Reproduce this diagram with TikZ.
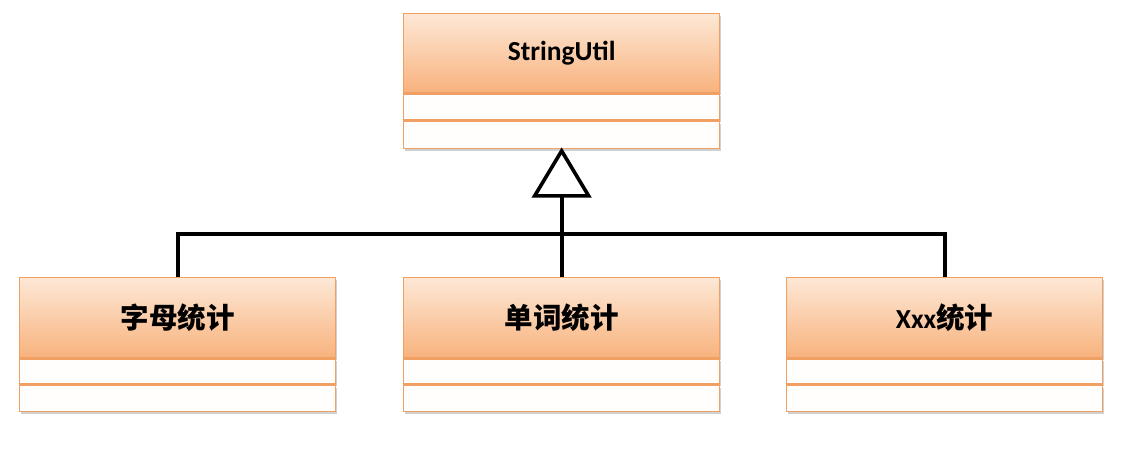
\documentclass[tikz,border=0pt]{standalone}
\usepackage{fontspec}
\setmainfont{Carlito}
\newfontfamily\cjk{Noto Sans CJK SC}
\usetikzlibrary{shadows,calc}
\definecolor{hdtop}{RGB}{253,232,214}
\definecolor{hdbot}{RGB}{248,178,125}
\definecolor{bord}{RGB}{240,160,98}
\definecolor{comp}{RGB}{255,254,252}
\tikzset{
  shad/.style={drop shadow={shadow xshift=1.5pt, shadow yshift=-2.5pt, opacity=0.3, fill=black!60}},
  header/.style={shad, draw=bord, line width=1.3pt, top color=hdtop, bottom color=hdbot,
    minimum width=316pt, anchor=north west, inner sep=0pt,
    font=\bfseries\fontsize{27.5}{30}\selectfont},
  compart/.style={shad, draw=bord, line width=1.3pt, fill=comp, minimum width=316pt,
    anchor=north west, inner sep=0pt},
  cjkt/.style={font=\cjk\bfseries\fontsize{28.5}{30}\selectfont},
  link/.style={line width=4pt, black, line join=miter},
}
\begin{document}
\begin{tikzpicture}[x=1pt, y=-1pt]
\useasboundingbox (0,0) rectangle (1135,452);
% top class
\node[header, minimum height=79pt] (su) at (403,13) {StringUtil};
\node[compart, minimum height=26pt] (su1) at (su.south west) {};
\node[compart, minimum height=27pt] (su2) at (su1.south west) {};
% bottom classes
\node[header, minimum height=80pt, cjkt] (a) at (19,277) {字母统计};
\node[compart, minimum height=25pt] (a1) at (a.south west) {};
\node[compart, minimum height=26pt] (a2) at (a1.south west) {};
\node[header, minimum height=80pt, cjkt] (m) at (403,277) {单词统计};
\node[compart, minimum height=25pt] (m1) at (m.south west) {};
\node[compart, minimum height=26pt] (m2) at (m1.south west) {};
\node[header, minimum height=80pt] (r) at (786,277) {Xxx{\cjk\bfseries\fontsize{28.5}{30}\selectfont 统计}};
\node[compart, minimum height=25pt] (r1) at (r.south west) {};
\node[compart, minimum height=26pt] (r2) at (r1.south west) {};
% generalization
\coordinate (apex) at ($(su2.south)+(0,2)$);
\coordinate (tbl) at ($(apex)+(-27,45)$);
\coordinate (tbr) at ($(apex)+(27,45)$);
\coordinate (tb) at ($(apex)+(0,45)$);
\coordinate (bar) at (561,234);
\draw[link] (m.north) -- (tb);
\draw[link] (a.north) -- (a.north |- bar) -- (r.north |- bar) -- (r.north);
\draw[link, line width=3.6pt, fill=white] (apex) -- (tbl) -- (tbr) -- cycle;
\end{tikzpicture}
\end{document}
